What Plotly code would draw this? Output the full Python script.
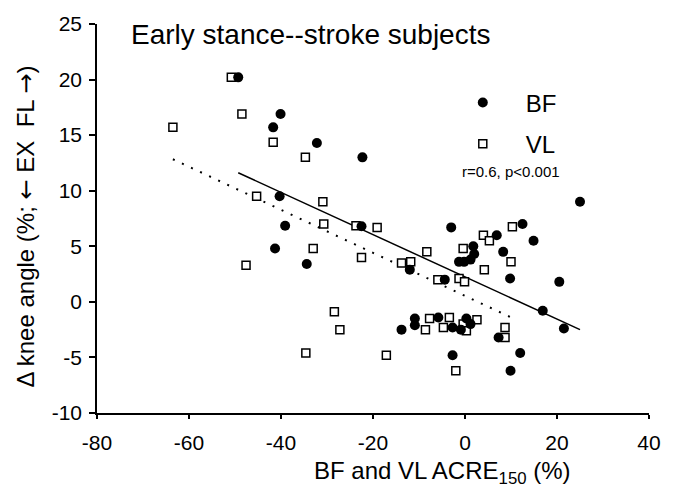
import plotly.graph_objects as go

# ---- data ----
bf_x = [-49.3, -40.1, -41.7, -32.2, -22.3, -40.3, -39.1, -41.3, -34.4, -22.5,
        -3.0, 6.9, 12.5, 14.9, 8.3, 1.8, 2.0, 1.2, -0.2, -1.3,
        -12.0, -4.4, 9.8, 16.9, 20.5, 21.5, 25.0, -13.8, -10.9, -10.9,
        -5.8, -2.7, -0.9, 0.3, 1.2, -2.7, 7.3, 9.9, 12.0]
bf_y = [20.2, 16.9, 15.7, 14.3, 13.0, 9.5, 6.85, 4.8, 3.4, 6.8,
        6.7, 6.0, 7.0, 5.5, 4.5, 5.0, 4.3, 3.8, 3.6, 3.6,
        2.9, 2.0, 2.1, -0.8, 1.8, -2.4, 9.0, -2.5, -1.5, -2.1,
        -1.4, -2.3, -2.5, -1.5, -2.0, -4.8, -3.2, -6.2, -4.6]

vl_x = [-50.8, -48.5, -63.5, -41.7, -34.7, -45.3, -30.9, -30.7, -23.7, -19.1,
        -33.0, -47.6, -22.5, -8.3, -0.4, 4.0, 5.3, 10.3, 10.0, 4.2,
        -13.8, -11.8, -5.9, -1.3, -0.1, -28.4, -27.2, -34.6, -17.1, -7.7,
        -8.6, -3.4, -4.7, -0.4, 0.3, 2.6, -2.0, 8.7, 8.7]
vl_y = [20.2, 16.9, 15.7, 14.35, 13.0, 9.5, 9.0, 7.0, 6.85, 6.7,
        4.8, 3.3, 4.0, 4.5, 4.8, 6.0, 5.5, 6.75, 3.6, 2.9,
        3.5, 3.6, 2.0, 2.1, 1.8, -0.9, -2.5, -4.6, -4.8, -1.5,
        -2.5, -1.4, -2.3, -2.0, -2.6, -1.6, -6.2, -2.3, -3.2]

# regression lines (slope, intercept)
bf_fit = [-0.19, 2.25]
vl_fit = [-0.1936, 0.54]

x_ticks = [-80, -60, -40, -20, 0, 20, 40]
y_ticks = [-10, -5, 0, 5, 10, 15, 20, 25]

FONT = "Liberation Sans, Arial, sans-serif"

def fit_line(xs, fit):
    x0, x1 = min(xs), max(xs)
    return [x0, x1], [fit[0] * x0 + fit[1], fit[0] * x1 + fit[1]]

fig = go.Figure()

lx, ly = fit_line(vl_x, vl_fit)
fig.add_trace(go.Scatter(x=lx, y=ly, mode="lines", showlegend=False,
                         line=dict(color="black", width=2, dash="2px,8px")))
lx, ly = fit_line(bf_x, bf_fit)
fig.add_trace(go.Scatter(x=lx, y=ly, mode="lines", showlegend=False,
                         line=dict(color="black", width=1.5)))

fig.add_trace(go.Scatter(x=vl_x, y=vl_y, mode="markers", name="VL", legendgroup="vl",
                         legendrank=2,
                         marker=dict(symbol="square", size=8, color="white",
                                     line=dict(color="black", width=1.5))))
fig.add_trace(go.Scatter(x=bf_x, y=bf_y, mode="markers", name="BF", legendgroup="bf",
                         legendrank=1,
                         marker=dict(symbol="circle", size=10, color="black",
                                     line=dict(color="black", width=0))))

W, H = 673, 497
L, R, T, B = 97, 15, 21, 84

ARROW = '<span style="font-family:DejaVu Sans">{}</span>'
ytitle = "Δ knee angle (%; " + ARROW.format("←") + " EX  FL " + ARROW.format("→") + ")"

fig.update_layout(
    width=W, height=H,
    margin=dict(l=L, r=R, t=T, b=B, pad=0),
    paper_bgcolor="white", plot_bgcolor="white",
    font=dict(family=FONT, color="black", size=21),
    showlegend=True,
    legend=dict(x=0.621, y=0.855, xanchor="left", yanchor="top",
                traceorder="grouped", tracegroupgap=7,
                itemwidth=76, font=dict(size=24, family=FONT),
                bgcolor="rgba(0,0,0,0)"),
    xaxis=dict(range=[-80, 40], tickvals=x_ticks, ticktext=[str(v) for v in x_ticks],
               showgrid=False, zeroline=False, showline=True, linecolor="black",
               linewidth=1.5, ticks="outside", ticklen=4, tickwidth=1.5,
               tickcolor="black", tickfont=dict(size=21), ticklabelstandoff=6),
    yaxis=dict(range=[-10, 25], tickvals=y_ticks, ticktext=[str(v) for v in y_ticks],
               showgrid=False, zeroline=False, showline=True, linecolor="black",
               linewidth=1.5, ticks="outside", ticklen=6, tickwidth=1.5,
               tickcolor="black", tickfont=dict(size=21), ticklabelstandoff=3),
    annotations=[
        dict(text="Early stance--stroke subjects", xref="paper", yref="paper",
             x=0.0588, y=0.974, xanchor="left", yanchor="middle", showarrow=False,
             font=dict(size=28, family=FONT)),
        dict(text="r=0.6, p<0.001", xref="paper", yref="paper",
             x=0.658, y=0.62, xanchor="left", yanchor="middle", showarrow=False,
             font=dict(size=15, family=FONT)),
        dict(text="BF and VL ACRE<sub>150</sub> (%)", xref="paper", yref="paper",
             x=0.626, y=-0.153, xanchor="center", yanchor="middle", showarrow=False,
             font=dict(size=24, family=FONT)),
        dict(text=ytitle, xref="paper", yref="paper",
             x=-0.128, y=0.48, xanchor="center", yanchor="middle", showarrow=False,
             textangle=-90, font=dict(size=24, family=FONT)),
    ],
)

fig.write_html("out.html")
